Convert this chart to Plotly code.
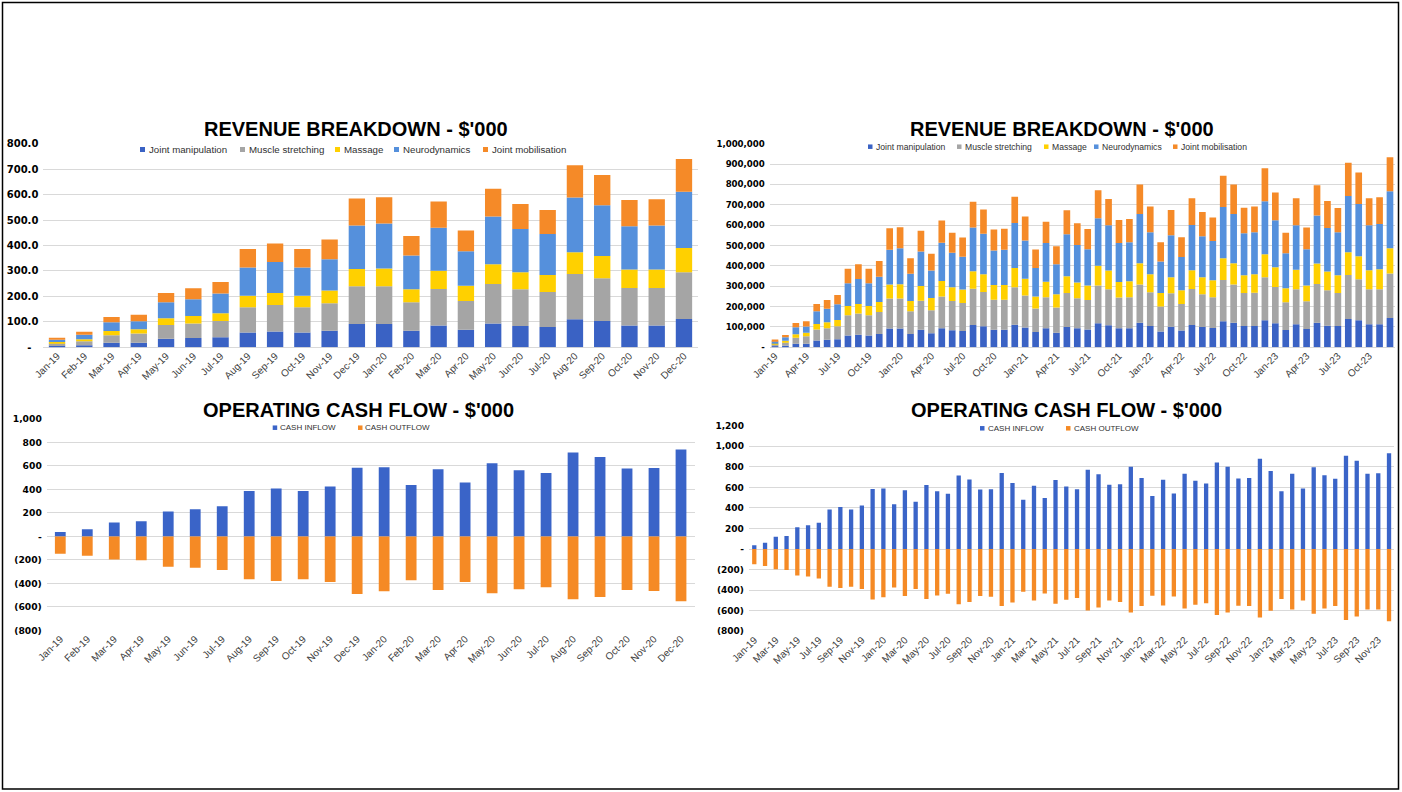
import plotly.graph_objects as go

W, H = 1402, 792

# ---------------- DATA (values in $'000) ----------------
months = [
    "Jan-19", "Feb-19", "Mar-19", "Apr-19", "May-19", "Jun-19", "Jul-19", "Aug-19", "Sep-19", "Oct-19", "Nov-19", "Dec-19",
    "Jan-20", "Feb-20", "Mar-20", "Apr-20", "May-20", "Jun-20", "Jul-20", "Aug-20", "Sep-20", "Oct-20", "Nov-20", "Dec-20",
    "Jan-21", "Feb-21", "Mar-21", "Apr-21", "May-21", "Jun-21", "Jul-21", "Aug-21", "Sep-21", "Oct-21", "Nov-21", "Dec-21",
    "Jan-22", "Feb-22", "Mar-22", "Apr-22", "May-22", "Jun-22", "Jul-22", "Aug-22", "Sep-22", "Oct-22", "Nov-22", "Dec-22",
    "Jan-23", "Feb-23", "Mar-23", "Apr-23", "May-23", "Jun-23", "Jul-23", "Aug-23", "Sep-23", "Oct-23", "Nov-23", "Dec-23",
]

joint_manipulation = [
    5, 8, 18, 18, 34, 37, 39, 58, 62, 58, 65, 92, 92, 65, 86, 69, 94, 84, 80, 110, 103, 86, 86, 111,
    97, 75, 93, 72, 100, 93, 88, 118, 108, 93, 93, 121, 105, 77, 101, 82, 110, 100, 95, 128, 120, 105, 105, 133,
    118, 85, 113, 90, 120, 106, 105, 139, 133, 113, 113, 144,
]
muscle_stretching = [
    11, 16, 29, 36, 54, 57, 64, 99, 104, 99, 108, 148, 148, 112, 143, 113, 155, 144, 137, 178, 168, 147, 147, 184,
    158, 115, 153, 124, 167, 148, 144, 185, 177, 151, 153, 188, 165, 123, 164, 131, 176, 160, 151, 203, 189, 162, 163, 211,
    178, 136, 172, 136, 191, 174, 162, 216, 201, 172, 172, 219,
]
massage = [
    5, 8, 17, 17, 26, 29, 31, 46, 47, 46, 50, 68, 70, 51, 72, 60, 77, 67, 67, 85, 88, 73, 73, 95,
    82, 60, 76, 64, 82, 77, 71, 98, 92, 77, 78, 104, 89, 67, 79, 67, 92, 84, 83, 106, 104, 87, 91, 113,
    97, 69, 96, 78, 100, 92, 87, 112, 113, 93, 98, 123,
]
neurodynamics = [
    9, 17, 34, 31, 63, 66, 77, 111, 122, 111, 123, 171, 176, 133, 169, 135, 188, 170, 161, 216, 199, 170, 173, 221,
    188, 140, 190, 148, 206, 185, 178, 233, 222, 191, 192, 242, 206, 155, 206, 164, 223, 201, 193, 252, 242, 206, 206, 260,
    231, 172, 218, 177, 236, 214, 211, 276, 257, 221, 223, 280,
]
joint_mobilisation = [
    8, 12, 21, 26, 36, 43, 46, 72, 73, 72, 78, 106, 104, 76, 103, 82, 109, 98, 94, 126, 119, 103, 103, 129,
    117, 90, 105, 88, 118, 106, 100, 137, 129, 113, 114, 145, 127, 94, 124, 96, 131, 120, 115, 154, 145, 126, 127, 162,
    136, 101, 133, 107, 149, 133, 119, 164, 155, 133, 131, 167,
]

cash_inflow = [
    38, 61, 119, 128, 213, 232, 257, 386, 408, 386, 424, 585, 590, 437, 573, 459, 623, 563, 539, 715, 677, 579, 582, 740,
    642, 480, 617, 496, 673, 609, 581, 771, 728, 625, 630, 800, 692, 516, 674, 540, 732, 665, 637, 843, 800, 686, 692, 879,
    760, 563, 732, 588, 796, 719, 684, 907, 859, 732, 737, 933,
]
cash_outflow = [
    -148, -165, -196, -204, -258, -267, -287, -366, -380, -366, -389, -491, -468, -374, -457, -389, -485, -451, -434, -536, -516, -457, -465, -553,
    -520, -415, -500, -432, -532, -494, -477, -597, -568, -500, -516, -616, -555, -455, -548, -461, -577, -542, -526, -642, -616, -552, -555, -665,
    -600, -487, -587, -500, -629, -577, -555, -690, -655, -587, -587, -703,
]

# tick labels
rev_left_tickvals = [0, 100, 200, 300, 400, 500, 600, 700, 800]
rev_left_ticktext = ["-\u00a0\u00a0", "100.0", "200.0", "300.0", "400.0", "500.0", "600.0", "700.0", "800.0"]
rev_right_tickvals = [0, 100, 200, 300, 400, 500, 600, 700, 800, 900, 1000]
rev_right_ticktext = ["-", "100,000", "200,000", "300,000", "400,000", "500,000", "600,000",
                      "700,000", "800,000", "900,000", "1,000,000"]
cf_left_tickvals = [-800, -600, -400, -200, 0, 200, 400, 600, 800, 1000]
cf_left_ticktext = ["(800)", "(600)", "(400)", "(200)", "-", "200", "400", "600", "800", "1,000"]
cf_right_tickvals = [-800, -600, -400, -200, 0, 200, 400, 600, 800, 1000, 1200]
cf_right_ticktext = ["(800)", "(600)", "(400)", "(200)", "-", "200", "400", "600", "800", "1,000", "1,200"]

# ---------------- STYLE ----------------
C_JM = "#3A62C4"
C_MS = "#A5A5A5"
C_MA = "#FFD000"
C_NE = "#5590DC"
C_MO = "#F58A28"
C_IN = "#3A64C8"
C_OUT = "#F58A25"
GRID = "#D9D9D9"

def fx(x):
    return x / W

def fy(y):
    return 1 - y / H

n_left = 24
left_months = months[:n_left]

series = [
    ("Joint manipulation", joint_manipulation, C_JM),
    ("Muscle stretching", muscle_stretching, C_MS),
    ("Massage", massage, C_MA),
    ("Neurodynamics", neurodynamics, C_NE),
    ("Joint mobilisation", joint_mobilisation, C_MO),
]

fig = go.Figure()

for name, vals, col in series:
    fig.add_trace(go.Bar(x=left_months, y=vals[:n_left], name=name, width=0.6,
                         marker=dict(color=col, line=dict(width=0)),
                         xaxis="x", yaxis="y", showlegend=False))
for name, vals, col in series:
    fig.add_trace(go.Bar(x=months, y=vals, name=name, width=0.64,
                         marker=dict(color=col, line=dict(width=0)),
                         xaxis="x2", yaxis="y2", showlegend=False))

fig.add_trace(go.Bar(x=left_months, y=cash_inflow[:n_left], name="CASH INFLOW", width=0.4,
                     marker=dict(color=C_IN, line=dict(width=0)), xaxis="x3", yaxis="y3", showlegend=False))
fig.add_trace(go.Bar(x=left_months, y=cash_outflow[:n_left], name="CASH OUTFLOW", width=0.4,
                     marker=dict(color=C_OUT, line=dict(width=0)), xaxis="x3", yaxis="y3", showlegend=False))
fig.add_trace(go.Bar(x=months, y=cash_inflow, name="CASH INFLOW", width=0.4,
                     marker=dict(color=C_IN, line=dict(width=0)), xaxis="x4", yaxis="y4", showlegend=False))
fig.add_trace(go.Bar(x=months, y=cash_outflow, name="CASH OUTFLOW", width=0.4,
                     marker=dict(color=C_OUT, line=dict(width=0)), xaxis="x4", yaxis="y4", showlegend=False))

xfont = dict(family="Liberation Sans, Arial, sans-serif", size=10, color="#404040")

def xaxis(domain, anchor, tickvals):
    return dict(domain=domain, anchor=anchor, type="category", tickangle=-45,
                tickmode="array", tickvals=tickvals, ticktext=tickvals,
                tickfont=xfont, showgrid=False, showline=False, zeroline=False,
                ticks="", automargin=False, fixedrange=True)

def yaxis(domain, anchor, rng, tv, tt, size):
    return dict(domain=domain, anchor=anchor, range=rng, tickmode="array",
                tickvals=tv, ticktext=tt, showgrid=True, gridcolor=GRID, gridwidth=1,
                zeroline=True, zerolinecolor=GRID, zerolinewidth=1, showline=False,
                ticks="", ticklabelstandoff=4, automargin=False, fixedrange=True,
                tickfont=dict(family="DejaVu Sans, Verdana, sans-serif", size=size,
                              color="#000000", weight="bold"))

top_y = [fy(347.3), fy(143.7)]

fig.update_layout(
    width=W, height=H,
    margin=dict(l=0, r=0, t=0, b=0, pad=0),
    paper_bgcolor="white", plot_bgcolor="white",
    barmode="relative",
    showlegend=False,
    xaxis=xaxis([fx(43.4), fx(697.6)], "y", left_months),
    yaxis=yaxis(top_y, "x", [0, 800], rev_left_tickvals, rev_left_ticktext, 10),
    xaxis2=xaxis([fx(769.8), fx(1395.2)], "y2", months[::3]),
    yaxis2=yaxis(top_y, "x2", [0, 1000], rev_right_tickvals, rev_right_ticktext, 8.6),
    xaxis3=xaxis([fx(46.8), fx(694.5)], "y3", left_months),
    yaxis3=yaxis([fy(630.3), fy(419.0)], "x3", [-800, 1000], cf_left_tickvals, cf_left_ticktext, 9.2),
    xaxis4=xaxis([fx(748.9), fx(1394.4)], "y4", months[::2]),
    yaxis4=yaxis([fy(631.3), fy(425.7)], "x4", [-800, 1200], cf_right_tickvals, cf_right_ticktext, 9),
)

shapes = []
annotations = []

# outer border
shapes.append(dict(type="rect", xref="paper", yref="paper", x0=fx(2.5), x1=fx(1398.5),
                   y0=fy(789), y1=fy(2.5), line=dict(color="black", width=1.5), fillcolor="rgba(0,0,0,0)"))

# white strips where legend boxes hide the top gridline
for x0, x1, yc in [(125, 573, 143.7), (855, 1255, 143.7), (248, 450, 419.0), (955, 1155, 425.7)]:
    shapes.append(dict(type="rect", xref="paper", yref="paper", layer="above",
                       x0=fx(x0), x1=fx(x1), y0=fy(yc + 2), y1=fy(yc - 2),
                       line=dict(width=0), fillcolor="white"))

# titles
title_font = dict(family="Liberation Sans, Arial, sans-serif", size=20, color="#000000", weight="bold")
for text, xc, yc in [("REVENUE BREAKDOWN - $'000", 356.5, 129),
                     ("REVENUE BREAKDOWN - $'000", 1062, 129),
                     ("OPERATING CASH FLOW - $'000", 358, 409.5),
                     ("OPERATING CASH FLOW - $'000", 1066, 410)]:
    annotations.append(dict(text=text, xref="paper", yref="paper", x=fx(xc), y=fy(yc),
                            xanchor="center", yanchor="middle", showarrow=False, font=title_font))

# legends (marker squares + labels)
def legend(items, yc, msize, gap, fsize):
    for (xm, label, col) in items:
        shapes.append(dict(type="rect", xref="paper", yref="paper", layer="above",
                           x0=fx(xm), x1=fx(xm + msize), y0=fy(yc + msize / 2), y1=fy(yc - msize / 2),
                           line=dict(width=0), fillcolor=col))
        annotations.append(dict(text=label, xref="paper", yref="paper", x=fx(xm + msize + gap), y=fy(yc),
                                xanchor="left", yanchor="middle", showarrow=False, borderpad=0,
                                font=dict(family="Liberation Sans, Arial, sans-serif", size=fsize, color="#303030")))

legend([(140, "Joint manipulation", C_JM), (240, "Muscle stretching", C_MS), (335, "Massage", C_MA),
        (394, "Neurodynamics", C_NE), (483, "Joint mobilisation", C_MO)], 149.5, 5, 3, 9.7)
legend([(868, "Joint manipulation", C_JM), (957, "Muscle stretching", C_MS), (1044, "Massage", C_MA),
        (1094, "Neurodynamics", C_NE), (1173, "Joint mobilisation", C_MO)], 146.7, 4.5, 2, 8.6)
legend([(272.7, "CASH INFLOW", C_IN), (358, "CASH OUTFLOW", C_OUT)], 427.7, 4.5, 2, 8)
legend([(980, "CASH INFLOW", C_IN), (1066, "CASH OUTFLOW", C_OUT)], 428.3, 4.5, 2, 8)

fig.update_layout(shapes=shapes, annotations=annotations)

fig.write_html("out.html", config={"displayModeBar": False})
